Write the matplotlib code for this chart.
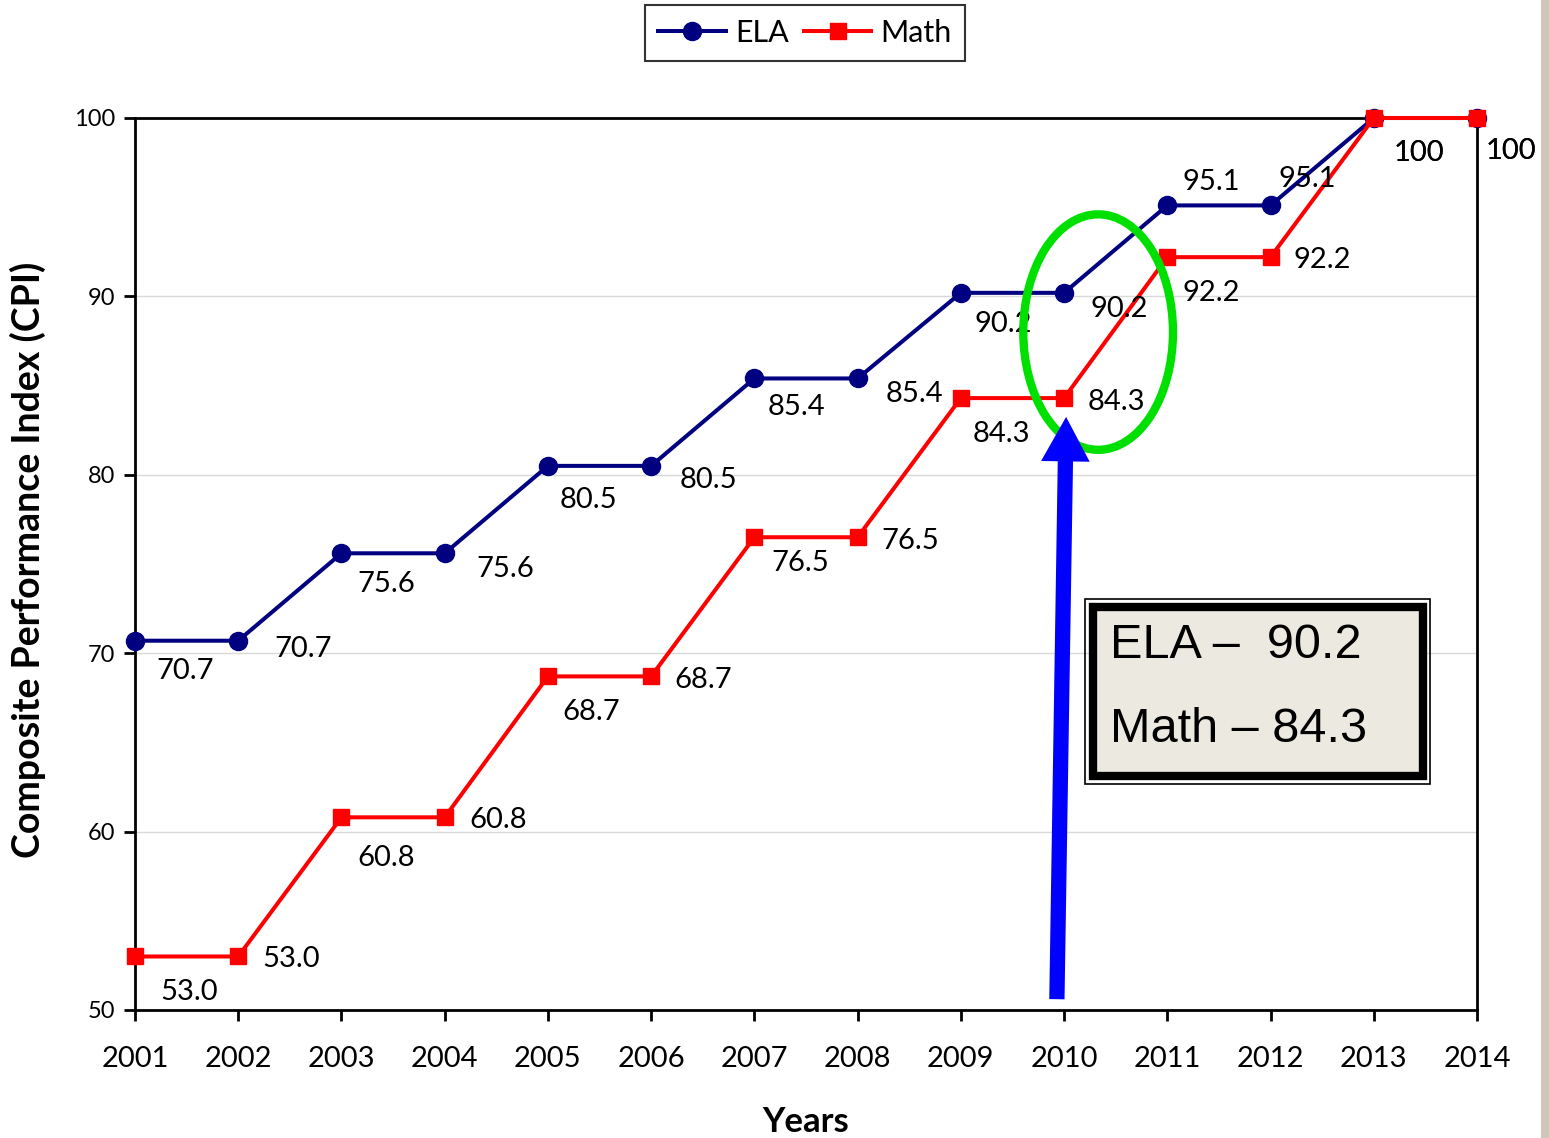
import matplotlib.pyplot as plt
from matplotlib.patches import Ellipse, Rectangle, FancyArrowPatch

plt.rcParams['font.family'] = ['Lato', 'DejaVu Sans']

years = [2001, 2002, 2003, 2004, 2005, 2006, 2007, 2008, 2009, 2010, 2011, 2012, 2013, 2014]
ela = [70.7, 70.7, 75.6, 75.6, 80.5, 80.5, 85.4, 85.4, 90.2, 90.2, 95.1, 95.1, 100, 100]
math = [53.0, 53.0, 60.8, 60.8, 68.7, 68.7, 76.5, 76.5, 84.3, 84.3, 92.2, 92.2, 100, 100]
ela_labels = ['70.7', '70.7', '75.6', '75.6', '80.5', '80.5', '85.4', '85.4', '90.2', '90.2', '95.1', '95.1', '100', '100']
math_labels = ['53.0', '53.0', '60.8', '60.8', '68.7', '68.7', '76.5', '76.5', '84.3', '84.3', '92.2', '92.2', '100', '100']

# label offsets in pixels (dx right, dy down) from each point
ela_off = [(50, 30), (65, 8), (45, 31), (61, 16), (41, 34), (57, 14), (42, 29), (57, 16),
           (42, 31), (55, 16), (44, -23), (37, -26), (45, 35), (34, 33)]
math_off = [(54, 36), (53, 3), (45, 41), (53, 3), (43, 36), (52, 4), (46, 26), (53, 4),
            (41, 36), (52, 4), (44, 36), (52, 3), (45, 35), (34, 33)]

W, H = 1549, 1138
fig = plt.figure(figsize=(W / 100, H / 100), dpi=100)
ax = fig.add_axes([135 / W, 1 - 1010 / H, (1477 - 135) / W, (1010 - 118) / H])

ax.plot(years, ela, color='#000080', lw=2.9, marker='o', ms=13, label='ELA', zorder=4, clip_on=False)
ax.plot(years, math, color='#FF0000', lw=2.9, marker='s', ms=12, label='Math', zorder=4, clip_on=False)

for x, y, t, (dx, dy) in zip(years, ela, ela_labels, ela_off):
    ax.annotate(t, (x, y), xytext=(dx, -dy), textcoords='offset pixels',
                ha='center', va='center', fontsize=21, zorder=5)
for x, y, t, (dx, dy) in zip(years, math, math_labels, math_off):
    ax.annotate(t, (x, y), xytext=(dx, -dy), textcoords='offset pixels',
                ha='center', va='center', fontsize=21, zorder=5)

ax.set_xlim(2001, 2014)
ax.set_ylim(50, 100)
ax.set_xticks(years)
ax.set_yticks([50, 60, 70, 80, 90, 100])
ax.tick_params(axis='x', labelsize=21, length=8, width=2, pad=18)
ax.tick_params(axis='y', labelsize=17, length=8, width=2, pad=6)
ax.yaxis.grid(True, color='#D9D9D9', lw=1)
ax.set_axisbelow(True)
for s in ax.spines.values():
    s.set_linewidth(2)

fig.text(806 / W, 1 - 1122 / H, 'Years', ha='center', va='center',
         fontsize=25, fontweight='bold')
fig.text(28 / W, 1 - 560 / H, 'Composite Performance Index (CPI)', rotation=90,
         ha='center', va='center', fontsize=27, fontweight='bold')

# green ellipse around 2010
ax.add_patch(Ellipse((2010.33, 88.0), 1.45, 13.2, fill=False, ec='#00E000', lw=6, zorder=6))

# blue arrow pointing up to 2010 math
arr = FancyArrowPatch((2009.93, 50.45), (2010.02, 83.4),
                      arrowstyle='simple,head_width=35,head_length=32,tail_width=11',
                      mutation_scale=1, color='#0000FF', lw=0, zorder=6)
ax.add_patch(arr)

# callout box
def fr(x, y):
    return x / W, 1 - y / H

fig.add_artist(Rectangle(fr(1085, 784), 345 / W, 185 / H, transform=fig.transFigure,
                         fill=False, ec='black', lw=1.2, zorder=7))
fig.add_artist(Rectangle(fr(1093, 776), 330 / W, 169 / H, transform=fig.transFigure,
                         fc='#ECEAE0', ec='black', lw=6, zorder=7))
fig.text(*fr(1110, 645), 'ELA \u2013  90.2', family='Liberation Sans', fontsize=35,
         ha='left', va='center', zorder=8)
fig.text(*fr(1110, 730), 'Math \u2013 84.3', family='Liberation Sans', fontsize=35,
         ha='left', va='center', zorder=8)

# legend
leg = fig.legend(loc='upper center', bbox_to_anchor=(805 / W, 1 - 5 / H), ncol=2,
                 fontsize=22, frameon=True, fancybox=False, edgecolor='black',
                 handlelength=2.2, columnspacing=0.5, handletextpad=0.3,
                 borderpad=0.45, borderaxespad=0)
leg.get_frame().set_linewidth(1.5)

# page shadow on right edge
fig.add_artist(Rectangle((1541 / W, 0), 8 / W, 1, transform=fig.transFigure,
                         fc='#CFC8B8', ec='none'))

fig.savefig('out.png', dpi=100)
